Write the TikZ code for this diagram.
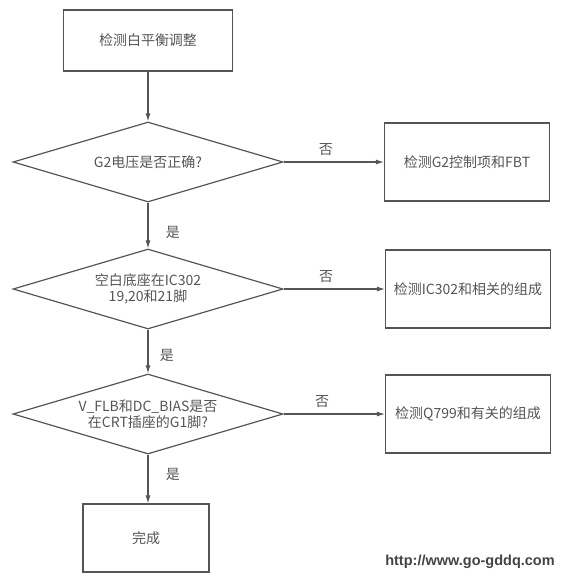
\documentclass[tikz,border=0pt]{standalone}
\usepackage{fontspec}
\newfontfamily\cjk{Noto Sans CJK SC}
\newfontfamily\urlfont{Liberation Sans}
\usetikzlibrary{arrows.meta,shapes.geometric}
\definecolor{ink}{RGB}{85,85,85}

\begin{document}
\begin{tikzpicture}[
        x=1pt, y=-1pt,
        font=\cjk\fontsize{14}{16.5}\selectfont, text=ink,
        blk/.style={rectangle, draw=ink, line width=1.1pt, minimum width=165pt, minimum height=78pt, align=center},
        dcsn/.style={diamond, draw=ink, line width=1.2pt, aspect=3.375, inner sep=0pt, minimum width=270pt, minimum height=80pt, align=center},
        flow/.style={draw=ink, line width=1.1pt, -{Latex[length=8pt,width=5pt]}},
    ]
        \useasboundingbox (0,0) rectangle (561,579);

        % Start box
        \node[blk, minimum width=169pt, minimum height=61pt] (START) at (148, 40.5) {检测白平衡调整};

        % Decisions (left column)
        \node[dcsn] (D1) at (148, 162) {G2电压是否正确?};
        \node[dcsn] (D2) at (148, 289) {空白底座在IC302\\19,20和21脚};
        \node[dcsn] (D3) at (148, 414) {V\_FLB和DC\_BIAS是否\\在CRT插座的G1脚?};
        \node[blk, minimum width=126pt, minimum height=68pt] (DONE) at (146, 538) {完成};

        % Checks (right column)
        \node[blk] (C1) at (467, 162) {检测G2控制项和FBT};
        \node[blk] (C2) at (468, 289) {检测IC302和相关的组成};
        \node[blk] (C3) at (468, 414) {检测Q799和有关的组成};

        % Arrows
        \draw[flow] (START) -- (D1);
        \draw[flow] (D1) -- node[pos=0.65, right=14pt] {是} (D2);
        \draw[flow] (D2) -- node[pos=0.6, right=8pt] {是} (D3);
        \draw[flow] (D3.south) -- node[pos=0.4, right=14pt] {是} (D3.south |- DONE.north);
        \draw[flow] (D1) -- node[pos=0.42, above=3pt] {否} (C1);
        \draw[flow] (D2) -- node[pos=0.42, above=3pt] {否} (C2);
        \draw[flow] (D3) -- node[pos=0.38, above=3pt] {否} (C3);

        % Source mark
        \node[font=\urlfont\bfseries\fontsize{14.5}{16}\selectfont, text=ink!80!black] (URL) at (470, 562) {http://www.go-gddq.com};
    \end{tikzpicture}
\end{document}
